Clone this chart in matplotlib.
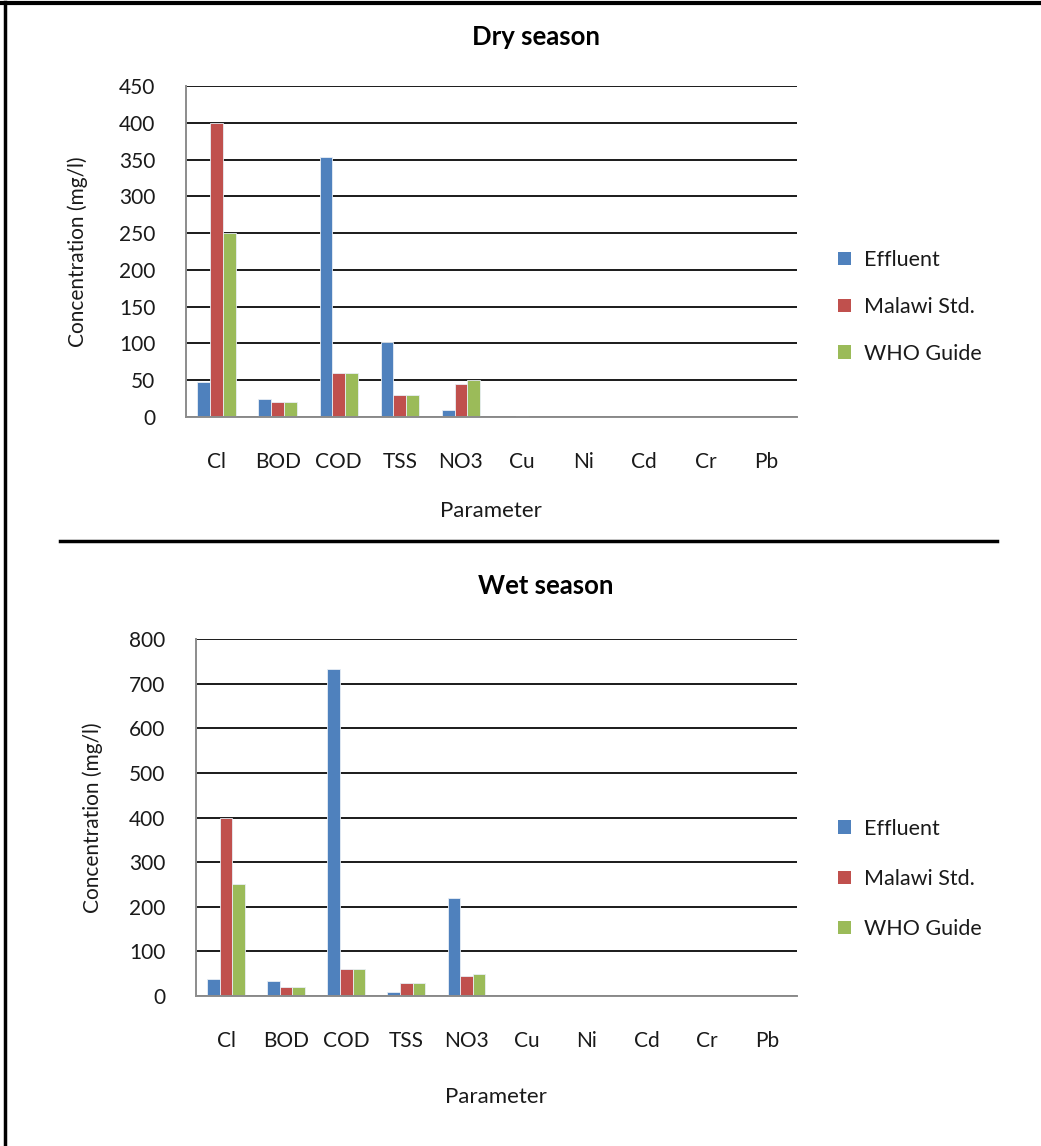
import matplotlib
matplotlib.use("Agg")
import matplotlib.pyplot as plt
from matplotlib.lines import Line2D
from matplotlib.patches import Patch
import numpy as np

plt.rcParams['font.family'] = ['Lato', 'DejaVu Sans']

parameters = ["Cl", "BOD", "COD", "TSS", "NO3", "Cu", "Ni", "Cd", "Cr", "Pb"]
series_names = ["Effluent", "Malawi Std.", "WHO Guide"]
colors = ["#4F81BD", "#C0504D", "#9BBB59"]

dry_effluent = [47, 25, 354, 102, 10, 0, 0, 0, 0, 0]
dry_malawi = [400, 20, 60, 30, 45, 2, 0, 0, 0, 0]
dry_who = [250, 20, 60, 30, 50, 0, 0, 0, 0, 0]
dry_yticks = [0, 50, 100, 150, 200, 250, 300, 350, 400, 450]

wet_effluent = [39, 33, 733, 10, 220, 0, 0, 0, 0, 0]
wet_malawi = [400, 20, 60, 30, 45, 0, 0, 0, 0, 0]
wet_who = [250, 20, 60, 30, 50, 0, 0, 0, 0, 0]
wet_yticks = [0, 100, 200, 300, 400, 500, 600, 700, 800]

W, H = 1041, 1146
fig = plt.figure(figsize=(W / 100, H / 100), dpi=100)


def px_axes(left, top, right, bottom):
    return fig.add_axes([left / W, 1 - bottom / H, (right - left) / W, (bottom - top) / H])


def draw_panel(ax, values, yticks, title, title_y, title_x, ylab_x, ylab_y,
               xlab_x, xlab_y, leg_y, leg_spacing):
    x = np.arange(len(parameters))
    bw = 0.21
    for i, (vals, c, name) in enumerate(zip(values, colors, series_names)):
        ax.bar(x + (i - 1) * bw, vals, width=bw, color=c, edgecolor="#e8eef5",
               linewidth=0.6, zorder=3, label=name)
    ax.set_xlim(-0.5, len(parameters) - 0.5)
    ax.set_ylim(yticks[0], yticks[-1])
    ax.set_yticks(yticks)
    ax.set_xticks(x)
    ax.set_xticklabels(parameters)
    ax.tick_params(axis="both", length=0, labelsize=15, colors="#1a1a1a")
    ax.tick_params(axis="x", pad=25)
    ax.tick_params(axis="y", pad=22)
    ax.yaxis.grid(True, color="#1a1a1a", linewidth=1.4, zorder=1)
    ax.set_axisbelow(True)
    for s in ["top", "right"]:
        ax.spines[s].set_visible(False)
    for s in ["left", "bottom"]:
        ax.spines[s].set_color("#8c8c8c")
        ax.spines[s].set_linewidth(1.4)
        ax.spines[s].set_zorder(4)
    fig.text(title_x / W, 1 - title_y / H, title, ha="center", va="center",
             fontsize=18.5, fontweight="bold", color="#000000")
    fig.text(ylab_x / W, 1 - ylab_y / H, "Concentration (mg/l)", rotation=90,
             ha="center", va="center", fontsize=15, color="#1a1a1a")
    fig.text(xlab_x / W, 1 - xlab_y / H, "Parameter", ha="center", va="center",
             fontsize=16, color="#1a1a1a")
    handles = [Patch(facecolor=c, edgecolor="none") for c in colors]
    fig.legend(handles, series_names, loc="center left",
               bbox_to_anchor=(819 / W, 1 - leg_y / H), frameon=False, fontsize=15.5,
               handlelength=0.6, handleheight=0.6, handletextpad=0.6,
               labelspacing=leg_spacing, labelcolor="#1a1a1a")


ax1 = px_axes(186, 86, 797, 417)
draw_panel(ax1, [dry_effluent, dry_malawi, dry_who], dry_yticks, "Dry season",
           title_y=37, title_x=536, ylab_x=78, ylab_y=252, xlab_x=491, xlab_y=511,
           leg_y=307, leg_spacing=1.25)

ax2 = px_axes(196, 639, 797, 996)
draw_panel(ax2, [wet_effluent, wet_malawi, wet_who], wet_yticks, "Wet season",
           title_y=586, title_x=546, ylab_x=93, ylab_y=818, xlab_x=496, xlab_y=1097,
           leg_y=879, leg_spacing=1.4)

# frame lines around the figure and between panels
fig.add_artist(Line2D([0, 1], [1 - 3 / H, 1 - 3 / H], color="black", linewidth=3))
fig.add_artist(Line2D([5 / W, 5 / W], [0, 1 - 2 / H], color="black", linewidth=2.5))
fig.add_artist(Line2D([60 / W, 997 / W], [1 - 541 / H, 1 - 541 / H], color="black", linewidth=2.5))

fig.savefig("out.png", dpi=100, facecolor="white")
